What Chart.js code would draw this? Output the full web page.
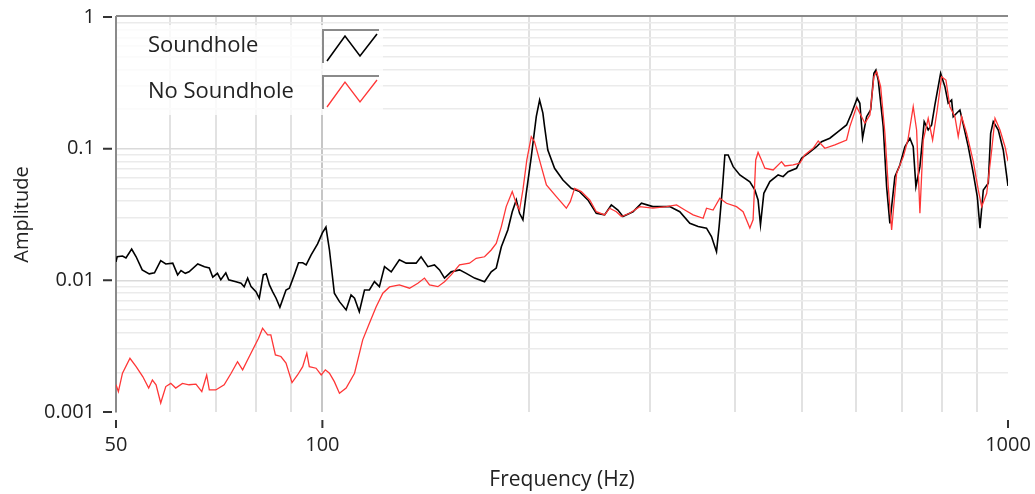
<!DOCTYPE html>
<html>
<head>
<meta charset="utf-8">
<script src="https://cdn.jsdelivr.net/npm/chart.js@4"></script>
<style>
  html, body { margin: 0; padding: 0; background: #fff; }
  canvas { display: block; }
</style>
</head>
<body>
<canvas id="myChart" width="1035" height="494"></canvas>
<script>
// Soundhole (black)
const blackHz = [50, 50.2, 51.1, 51.7, 52.7, 53.5, 54.6, 55.9, 56.9, 58.1,
  59.1, 60.5, 61.5, 62.2, 63.1, 63.9, 65.8, 67.3, 68.4, 69.2,
  70.3, 71.1, 72.3, 73.0, 74.8, 76.1, 76.9, 77.8, 78.7, 80.0,
  80.9, 82.0, 82.8, 83.7, 84.6, 85.6, 86.7, 88.5, 89.5, 91.0,
  92.3, 93.6, 94.7, 96.3, 98.4, 100, 101.2, 102.4, 104.1, 105.9,
  108.3, 110.1, 111.4, 113.2, 115.2, 117.1, 119.1, 121.1, 123.2, 126.0,
  129.5, 132.5, 137.0, 139.3, 142.5, 145.7, 148.2, 150.7, 154.1, 158.5,
  162.1, 166.7, 172.4, 176.3, 179.3, 182.4, 186.4, 189.2, 191.8, 193.9,
  196.1, 198.3, 201.7, 205.1, 207.4, 209.7, 210.9, 213.2, 218.1, 224.3,
  230.7, 237.2, 243.9, 250.9, 258.0, 263.9, 269.8, 274.4, 283.8, 292.0,
  303.4, 321.1, 332.1, 343.5, 353.2, 363.3, 369.4, 375.7, 379.0, 383.4,
  386.4, 390.7, 397.3, 406.3, 420.2, 427.3, 432.0, 435.5, 440.4, 449.4,
  462.1, 469.9, 477.9, 491.5, 499.9, 511.1, 525.7, 534.6, 549.7, 565.3,
  581.5, 591.3, 602.6, 608.0, 613.6, 621.9, 630.4, 637.4, 641.7, 646.7,
  657.7, 665.2, 672.5, 683.9, 695.5, 707.3, 719.3, 727.4, 734.0, 743.9,
  754.7, 764.9, 773.7, 782.3, 797.5, 809.1, 818.0, 827.5, 832.0, 841.5,
  850.9, 858.7, 875.0, 890.0, 902.0, 910.2, 920.4, 935.9, 943.4, 951.7,
  967.9, 984.2, 1000];
const blackAmp = [0.0138, 0.01514, 0.0153, 0.0148, 0.0173, 0.0151, 0.0120, 0.0112, 0.0114, 0.0141,
  0.0133, 0.0135, 0.0110, 0.01185, 0.0113, 0.0116, 0.0133, 0.0127, 0.0124, 0.01056,
  0.0113, 0.0101, 0.0114, 0.0101, 0.00977, 0.00951, 0.00895, 0.0104, 0.00895, 0.00821,
  0.00731, 0.0110, 0.0112, 0.00923, 0.00821, 0.00731, 0.00625, 0.00845, 0.00871, 0.0110,
  0.0136, 0.0136, 0.0131, 0.0156, 0.0189, 0.0229, 0.0254, 0.0170, 0.00798, 0.00689,
  0.00596, 0.00775, 0.00731, 0.00578, 0.00845, 0.00845, 0.00977, 0.00895, 0.0127, 0.0116,
  0.0143, 0.0135, 0.0135, 0.0151, 0.0127, 0.0131, 0.0120, 0.0104, 0.0116, 0.0120,
  0.0113, 0.0104, 0.00977, 0.0116, 0.0124, 0.0180, 0.0241, 0.0332, 0.0408, 0.0323,
  0.0288, 0.0458, 0.0870, 0.175, 0.234, 0.186, 0.147, 0.0977, 0.0710, 0.0578,
  0.0500, 0.0472, 0.0408, 0.0323, 0.0314, 0.0374, 0.0342, 0.0305, 0.0332, 0.0385,
  0.0363, 0.0363, 0.0332, 0.0271, 0.0256, 0.0249, 0.0215, 0.0165, 0.0256, 0.0515,
  0.0896, 0.0896, 0.0730, 0.0631, 0.0559, 0.0486, 0.0408, 0.0264, 0.0458, 0.0562,
  0.0631, 0.0613, 0.0669, 0.0710, 0.0846, 0.0923, 0.1035, 0.113, 0.120, 0.1346,
  0.1514, 0.1857, 0.2413, 0.2212, 0.120, 0.175, 0.1967, 0.3737, 0.3959, 0.3323,
  0.147, 0.0515, 0.0271, 0.0613, 0.0752, 0.1035, 0.120, 0.1035, 0.0515, 0.0730,
  0.1603, 0.1387, 0.1514, 0.2147, 0.3737, 0.2956, 0.2212, 0.234, 0.175, 0.1857,
  0.1967, 0.1603, 0.1035, 0.0650, 0.0432, 0.0249, 0.0486, 0.0546, 0.1309, 0.1603,
  0.1387, 0.0977, 0.0521];

// No Soundhole (red)
const redHz = [50, 50.4, 51.1, 52.4, 53.5, 54.7, 55.8, 56.5, 57.2, 58.1,
  59.1, 60.1, 61.1, 62.5, 63.9, 65.4, 66.7, 67.8, 68.4, 69.9,
  71.9, 73.6, 75.2, 76.5, 77.8, 79.1, 80.7, 81.8, 83.2, 84.1,
  85.4, 87.0, 88.5, 90.3, 92.0, 93.6, 94.9, 95.7, 97.9, 99.6,
  101.0, 102.4, 104.1, 105.9, 108.3, 111.4, 114.5, 117.1, 119.8, 122.5,
  125.3, 129.5, 134.0, 137.8, 140.9, 143.3, 147.4, 150.7, 154.1, 158.5,
  163.9, 167.6, 172.4, 176.3, 179.3, 182.4, 185.4, 189.2, 192.1, 193.9,
  196.1, 198.7, 201.7, 203.9, 208.6, 212.2, 219.4, 226.9, 229.9, 233.3,
  238.6, 245.4, 250.9, 258.0, 262.4, 268.4, 273.0, 280.7, 290.3, 303.4,
  317.6, 328.5, 337.8, 347.3, 359.2, 363.3, 371.4, 379.9, 388.5, 401.8,
  410.8, 420.2, 424.8, 428.6, 432.0, 436.9, 441.9, 454.4, 467.4, 472.7,
  486.0, 497.0, 505.4, 519.7, 528.7, 540.6, 559.1, 581.5, 587.9, 601.3,
  608.0, 618.4, 628.9, 637.4, 643.3, 652.0, 661.4, 668.9, 676.5, 688.0,
  703.6, 714.5, 727.4, 735.7, 743.9, 752.3, 764.9, 776.3, 788.4, 800.1,
  811.8, 822.7, 836.7, 846.1, 855.7, 870.3, 890.0, 905.0, 915.4, 931.0,
  946.7, 957.3, 973.4, 990.0, 1000];
const redAmp = [0.00161, 0.00143, 0.00197, 0.00256, 0.00221, 0.00186, 0.00152, 0.00175, 0.00161, 0.00117,
  0.00156, 0.00165, 0.00152, 0.00165, 0.00161, 0.00163, 0.00143, 0.00191, 0.00147, 0.00147,
  0.00161, 0.00197, 0.00241, 0.00209, 0.00249, 0.00296, 0.00363, 0.00433, 0.00385, 0.00385,
  0.00271, 0.00264, 0.00235, 0.00167, 0.00191, 0.00221, 0.0028, 0.00221, 0.00215, 0.00191,
  0.00209, 0.00197, 0.0017, 0.00139, 0.00152, 0.00197, 0.00353, 0.00472, 0.00631, 0.00798,
  0.00891, 0.00923, 0.00871, 0.00951, 0.0104, 0.00923, 0.00895, 0.00977, 0.0110, 0.0131,
  0.0135, 0.0147, 0.0151, 0.0170, 0.0191, 0.0256, 0.0363, 0.0472, 0.0374, 0.0342,
  0.0486, 0.0821, 0.1234, 0.113, 0.0730, 0.0530, 0.0432, 0.0353, 0.0396, 0.0500,
  0.0472, 0.0408, 0.0332, 0.0314, 0.0353, 0.0332, 0.0305, 0.0323, 0.0363, 0.0353,
  0.0363, 0.0374, 0.0342, 0.0314, 0.0296, 0.0353, 0.0342, 0.0420, 0.0385, 0.0363,
  0.0332, 0.0250, 0.0288, 0.0821, 0.0936, 0.0821, 0.0710, 0.0689, 0.0797, 0.0739,
  0.0752, 0.0775, 0.0896, 0.1007, 0.1144, 0.1007, 0.1067, 0.1164, 0.147, 0.2084,
  0.1857, 0.1559, 0.1803, 0.3521, 0.3843, 0.2956, 0.1309, 0.0515, 0.0241, 0.0650,
  0.0870, 0.1164, 0.2084, 0.1387, 0.0323, 0.1164, 0.1701, 0.1164, 0.1967, 0.3521,
  0.3323, 0.2084, 0.175, 0.1234, 0.175, 0.1309, 0.0797, 0.0486, 0.0363, 0.0458,
  0.0977, 0.1701, 0.1387, 0.1035, 0.0806];

const xTicks = [50, 60, 70, 80, 90, 100, 200, 300, 400, 500, 600, 700, 800, 900, 1000];
const xLabels = [50, 100, 1000];
const yTicks = [0.001, 0.002, 0.003, 0.004, 0.005, 0.006, 0.007, 0.008, 0.009,
  0.01, 0.02, 0.03, 0.04, 0.05, 0.06, 0.07, 0.08, 0.09,
  0.1, 0.2, 0.3, 0.4, 0.5, 0.6, 0.7, 0.8, 0.9, 1];
const yLabels = [0.001, 0.01, 0.1, 1];

Chart.defaults.font.family = "'Open Sans', sans-serif";
Chart.defaults.color = '#222';

function pairs(xs, ys) {
    return xs.map((v, i) => ({x: v, y: ys[i]}));
}

// legend, frame and the little tick dashes
const decorations = {
    id: 'decorations',
    beforeDatasetsDraw(chart) {
        const {ctx, chartArea: a} = chart;
        ctx.save();
        ctx.fillStyle = 'rgba(255,255,255,0.8)';
        ctx.fillRect(a.left + 1, 25, 266, 90);
        ctx.font = "22px 'Open Sans'";
        ctx.textBaseline = 'middle';
        ctx.fillStyle = '#222';
        const rows = [46, 92];
        chart.data.datasets.forEach((ds, i) => {
            const cy = rows[i];
            ctx.fillText(ds.label, 148, cy);
            ctx.strokeStyle = '#8a8a8a';
            ctx.lineWidth = 2;
            ctx.beginPath();
            ctx.moveTo(323, cy + 17);
            ctx.lineTo(323, cy - 16);
            ctx.lineTo(379, cy - 16);
            ctx.stroke();
            ctx.strokeStyle = ds.borderColor;
            ctx.lineWidth = ds.borderWidth;
            ctx.beginPath();
            ctx.moveTo(327, cy + 15);
            ctx.lineTo(345, cy - 10);
            ctx.lineTo(360, cy + 10);
            ctx.lineTo(377, cy - 12);
            ctx.stroke();
        });
        ctx.restore();
    },
    afterDraw(chart) {
        const {ctx, chartArea: a, scales: {x, y}} = chart;
        ctx.save();
        ctx.strokeStyle = '#8a8a8a';
        ctx.lineWidth = 2;
        ctx.beginPath();
        ctx.moveTo(a.left, a.top - 1);
        ctx.lineTo(a.right, a.top - 1);
        ctx.stroke();
        ctx.strokeStyle = '#333';
        ctx.lineWidth = 2;
        ctx.beginPath();
        xLabels.forEach(v => {
            const px = x.getPixelForValue(v);
            ctx.moveTo(px, a.bottom + 8);
            ctx.lineTo(px, a.bottom + 16);
        });
        yLabels.forEach(v => {
            const py = y.getPixelForValue(v);
            ctx.moveTo(a.left - 13, py);
            ctx.lineTo(a.left - 4, py);
        });
        ctx.stroke();
        ctx.restore();
    }
};

const ctx = document.getElementById('myChart').getContext('2d');
const myChart = new Chart(ctx, {
    type: 'line',
    data: {
        datasets: [
            {
                label: 'Soundhole',
                data: pairs(blackHz, blackAmp),
                borderColor: '#000000',
                borderWidth: 1.6,
                order: 1
            },
            {
                label: 'No Soundhole',
                data: pairs(redHz, redAmp),
                borderColor: '#ff3636',
                borderWidth: 1.3,
                order: 0
            }
        ]
    },
    options: {
        responsive: false,
        animation: false,
        devicePixelRatio: 1,
        elements: {
            point: { radius: 0 },
            line: { tension: 0 }
        },
        layout: {
            padding: { left: 0, top: 17, right: 27, bottom: 0 }
        },
        plugins: {
            legend: { display: false },
            tooltip: { enabled: false }
        },
        scales: {
            x: {
                type: 'logarithmic',
                min: 50,
                max: 1000,
                afterBuildTicks: (scale) => { scale.ticks = xTicks.map(v => ({value: v})); },
                afterFit: (scale) => {
                    scale.height = 82;
                    scale.paddingLeft = 0;
                    scale.paddingRight = 0;
                },
                ticks: {
                    autoSkip: false,
                    maxRotation: 0,
                    padding: 21,
                    font: { size: 20 },
                    callback: (v) => xLabels.includes(v) ? String(v) : ''
                },
                grid: {
                    drawTicks: false,
                    lineWidth: 2,
                    color: (c) => {
                        const v = c.tick && c.tick.value;
                        if (v === 50 || v === 1000) return 'rgba(0,0,0,0)';
                        return v === 100 ? '#c6c6c6' : '#e2e2e2';
                    }
                },
                border: { display: false },
                title: {
                    display: true,
                    text: 'Frequency (Hz)',
                    font: { size: 21, lineHeight: 1.2 },
                    padding: { top: 0, bottom: 1 }
                }
            },
            y: {
                type: 'logarithmic',
                min: 0.001,
                max: 1,
                afterBuildTicks: (scale) => { scale.ticks = yTicks.map(v => ({value: v})); },
                afterFit: (scale) => {
                    scale.width = 116;
                    scale.paddingTop = 0;
                    scale.paddingBottom = 0;
                },
                ticks: {
                    autoSkip: false,
                    padding: 21,
                    font: { size: 20 },
                    callback: (v) => yLabels.includes(v) ? String(v) : ''
                },
                grid: {
                    drawTicks: false,
                    lineWidth: 1.5,
                    color: (c) => {
                        const v = c.tick && c.tick.value;
                        if (v === 1 || v === 0.001) return 'rgba(0,0,0,0)';
                        return (v === 0.01 || v === 0.1) ? '#dadada' : '#ebebeb';
                    }
                },
                border: { display: true, color: '#8a8a8a', width: 2 },
                title: {
                    display: true,
                    text: 'Amplitude',
                    font: { size: 20, lineHeight: 1.2 },
                    padding: { top: 10, bottom: 0 }
                }
            }
        }
    },
    plugins: [decorations]
});
</script>
</body>
</html>
